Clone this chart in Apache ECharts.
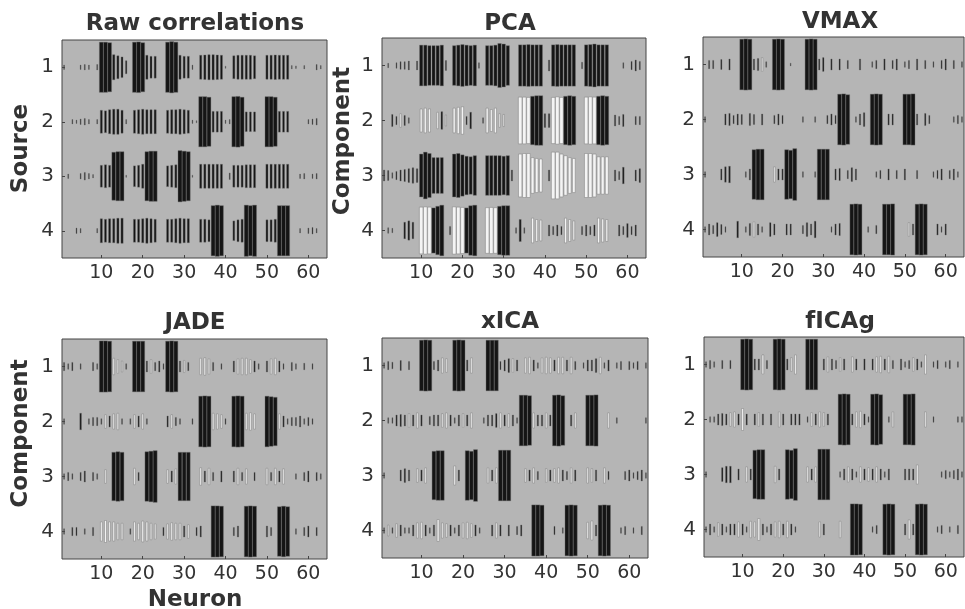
<!DOCTYPE html>
<html><head><meta charset="utf-8">
<script src="https://cdn.jsdelivr.net/npm/echarts@6/dist/echarts.min.js"></script>
<style>html,body{margin:0;padding:0;background:#fff}#c{width:965px;height:609px}</style>
</head><body><div id="c"></div>
<script>
// ---------- data (percent; positive = black bar, negative = white bar) ----------
const rowLabels = ['1', '2', '3', '4'];
const xTicks = [10, 20, 30, 40, 50, 60];
const panelTitles = ['Raw correlations', 'PCA', 'VMAX', 'JADE', 'xICA', 'fICAg'];

const raw1 = [8,0,0,0,8,10,8,0, 10,92,92,90,46,42,38,24, 0,92,93,90,44,40,40,0, 0,92,94,92,44,40,40,8, 0,44,45,46,46,45,44,4, 0,42,44,44,44,44,42,0, 0,44,44,45,44,44,44,6, 5,0,6,0,0,10,6,0];
const raw2 = [0,0,8,6,10,12,8,0, 8,42,40,44,46,46,42,8, 0,42,44,46,44,44,44,0, 0,42,44,44,46,44,42,6, 4,92,92,90,38,38,38,6, 8,92,93,90,36,36,36,0, 0,92,92,90,38,38,38,0, 0,0,0,8,10,12,0,0];
const raw3 = [0,8,0,0,10,14,10,6, 0,40,42,40,88,90,90,4, 0,38,40,44,90,92,92,0, 0,38,40,42,94,92,90,4, 0,44,44,44,44,44,44,0, 12,40,40,40,42,42,42,0, 0,44,44,44,44,44,44,0, 0,8,10,0,8,10,0,0];
const raw4 = [0,0,0,10,8,0,0,0, 8,44,42,44,44,46,46,0, 0,42,42,44,46,44,42,0, 0,42,42,44,46,44,44,0, 0,42,42,40,92,94,92,0, 0,36,40,42,94,92,94,0, 0,40,40,42,92,92,92,0, 0,8,0,10,12,8,0,0];

const pca1 = [0,8,0,10,14,14,16,0, 16,74,74,72,72,72,74,18, 0,72,74,76,74,72,74,10, 0,72,72,74,80,78,72,0, 0,75,75,76,75,75,75,0, 20,75,76,75,75,75,75,0, 12,75,76,78,75,75,75,0, 0,0,10,0,15,20,15,0];
const pca2 = [0,0,22,15,-25,18,10,0, 0,-42,-45,-42,0,-30,32,-20, 0,-45,-48,-50,15,30,0,0, 10,-45,-40,-45,-25,-22,0,0, 0,-85,-85,-84,88,90,90,25, 25,-84,-86,-84,88,90,88,0, 0,-85,-86,-85,88,90,88,0, 20,15,22,0,0,15,15,0];
const pca3 = [20,18,10,15,20,22,25,28, 25,78,85,80,65,65,65,0, 0,78,80,75,70,68,72,0, 0,72,72,72,72,70,72,20, 0,-78,-80,-80,-65,-62,-60,0, 20,-85,-85,-78,-72,-65,-62,0, 0,-80,-80,-78,-68,-68,-68,0, 20,15,30,0,0,20,25,0];
const pca4 = [0,10,8,0,0,30,35,30, 0,-85,-86,-85,82,88,92,0, 15,-86,-85,-84,82,90,92,0, 0,-83,-84,-83,88,90,90,0, 10,40,10,0,-45,-40,-38,0, 20,15,20,15,-45,-40,-35,0, 15,20,15,20,-45,-42,-40,0, 0,20,15,25,15,20,0,0];

const vmax1 = [0,15,15,0,18,0,20,0, 0,92,93,92,20,22,-25,10, 0,92,93,92,0,5,0,0, 0,92,93,92,20,25,0,20, 0,20,0,15,0,0,20,0, 0,10,15,0,20,0,15,20, 0,10,15,0,20,0,15,0, 10,0,15,20,0,15,0,10];
const vmax2 = [10,0,0,0,0,20,22,15, 20,18,0,22,18,0,20,0, 0,15,20,15,0,0,0,0, 10,0,0,10,0,0,15,20, 15,92,93,90,0,10,20,25, 0,92,93,92,0,20,20,0, 0,92,92,93,20,0,22,15, 0,0,0,0,0,10,15,10];
const vmax3 = [10,0,0,0,20,28,30,0, 0,0,10,20,90,92,92,0, 0,-28,20,20,90,88,94,0, 10,0,0,10,92,92,92,0, 20,22,0,15,25,20,0,0, 0,0,10,15,0,20,0,15, 0,20,0,0,15,0,0,0, 10,15,20,0,15,20,10,0];
const vmax4 = [10,20,15,25,18,10,0,0, 30,0,10,22,-28,20,10,0, 25,20,0,0,20,20,0,0, 15,25,20,30,0,0,0,10, 20,22,0,0,92,93,92,0, 10,0,15,0,92,92,93,0, 0,0,-25,20,92,93,92,0, 0,20,10,20,0,0,0,0];

const jade1 = [15,10,15,0,10,0,0,15, 10,93,93,92,-30,-25,-20,10, 0,92,92,92,20,-25,15,20, 10,92,93,92,20,-22,15,0, 0,-30,-32,-28,15,0,10,0, 0,20,-28,-30,-30,-25,20,10, 0,20,-28,-30,20,10,0,15, 10,0,12,0,10,0,0,0];
const jade2 = [10,0,0,0,30,0,10,15, 15,10,-25,20,-28,-30,10,0, 10,-25,20,-28,10,0,0,0, 0,20,-25,15,10,0,0,10, 0,92,93,92,-30,-28,-25,10, 0,92,93,92,-30,-32,-28,0, 0,92,90,88,-28,20,10,15, 15,20,10,15,10,0,0,0];
const jade3 = [10,15,10,0,15,20,0,15, 10,0,-25,0,88,90,88,0, 0,-30,15,0,90,92,94,0, 0,-25,20,-28,88,88,88,0, 0,-32,20,-30,15,0,20,0, 0,20,-30,15,-28,0,15,0, 0,-30,15,-30,20,-28,0,0, 10,0,15,20,0,15,10,0];
const jade4 = [10,0,15,15,0,10,0,15, 0,-35,-40,-35,-35,-30,-30,0, 10,-35,-30,-38,-35,-30,-28,0, 15,-28,-32,-30,-30,20,-25,0, 15,20,0,0,93,93,92,0, 0,15,20,0,92,93,92,0, 0,20,15,0,90,92,90,0, 10,0,15,20,0,15,0,0];

const xica1 = [10,15,12,0,18,0,15,0, 0,92,93,92,15,20,-28,-25, 0,92,93,92,20,-28,0,0, 0,92,92,92,15,20,25,-25, 20,0,-28,-30,20,10,-28,-30, -28,20,-30,-30,20,-30,15,0, 10,20,20,25,-30,10,20,0, 10,15,0,15,10,15,0,10];
const xica2 = [0,10,10,20,22,20,-25,20, -28,20,0,15,20,20,-25,-28, 20,10,20,-25,20,-28,0,0, 10,20,20,25,-28,20,-25,20, 10,92,92,90,-28,20,20,-28, 20,92,93,90,0,20,-28,0, 0,92,92,93,0,0,-28,0, 10,0,0,0,0,0,0,10];
const xica3 = [10,0,0,0,20,25,20,0, -25,20,-28,0,88,90,90,0, 0,-35,20,0,90,88,94,0, 0,-28,20,-28,92,92,92,0, 0,0,-25,20,-28,15,0,-25, 20,-25,-28,20,15,-28,20,0, 0,-28,-25,20,0,-28,15,0, 0,0,15,20,10,15,20,10];
const xica4 = [10,-20,10,-25,20,10,10,20, -28,-30,20,10,20,-40,-28,-25, 20,10,20,-28,-30,-25,20,10, 0,0,20,-28,20,0,20,0, 15,20,0,0,93,93,92,0, 0,15,0,10,92,93,92,0, 0,-30,-35,20,92,93,92,0, 0,10,15,0,10,0,15,0];

const fica1 = [10,15,10,0,15,0,15,0, 0,92,93,92,20,20,-35,15, 0,92,93,92,20,-25,-35,0, 0,92,92,92,0,20,-28,20, 15,-25,20,0,-28,20,0,20, 0,20,-28,-30,20,-30,15,0, 20,10,15,-25,20,10,-35,0, 10,15,0,10,15,0,10,0];
const fica2 = [0,10,10,20,22,20,-25,-28, 20,-40,20,0,20,-25,20,0, 20,0,-28,20,0,20,20,20, 0,10,-25,20,-28,-25,20,0, 0,92,93,92,20,-28,-30,20, 10,92,93,90,0,10,-28,0, 0,92,92,93,0,0,-28,0, 10,0,0,0,0,0,10,10];
const fica3 = [10,0,0,0,25,30,30,0, 20,0,-28,20,88,90,90,0, 0,-30,20,0,90,88,94,0, 0,-28,20,-28,92,92,92,0, 0,10,20,-28,20,10,-28,20, -25,20,-28,20,10,20,0,0, 0,20,20,20,-35,0,0,0, 0,0,10,15,10,15,20,10];
const fica4 = [10,20,10,-25,20,10,20,20, -28,20,10,-30,-28,-40,20,10, 20,-28,-30,20,-30,20,10,0, 0,0,0,0,-28,20,0,0, 0,-30,0,0,93,93,92,0, 0,10,15,0,92,93,92,0, 0,20,-35,20,92,93,92,0, 0,10,15,0,10,0,15,0];

const panelRows = [
  [raw1, raw2, raw3, raw4],
  [pca1, pca2, pca3, pca4],
  [vmax1, vmax2, vmax3, vmax4],
  [jade1, jade2, jade3, jade4],
  [xica1, xica2, xica3, xica4],
  [fica1, fica2, fica3, fica4]
];

// ---------- layout ----------
const gridBoxes = [
  {left: 62, top: 40, width: 265, height: 218},
  {left: 382, top: 38, width: 264, height: 220},
  {left: 703, top: 37, width: 261, height: 220},
  {left: 62, top: 339, width: 265, height: 220},
  {left: 382, top: 338, width: 266, height: 220},
  {left: 704, top: 337, width: 260, height: 220}
];
const titlePos = [[195, 24.5], [510, 24], [840, 22.5], [195, 323], [510, 322], [840, 322]];
const FONT = '"DejaVu Sans", Verdana, sans-serif';
const TXT = '#333333';

function renderItem(params, api) {
  const n = api.value(0), r = api.value(1), v = api.value(2);
  const c = api.coord([n, r]);
  const unit = api.size([1, 1]);
  const a = Math.abs(v) / 100;
  const w = unit[0] * Math.min(0.96, 0.12 + 0.9 * a);
  const h = unit[1] * a;
  return {
    type: 'rect',
    shape: {x: c[0] - w / 2, y: c[1] - h / 2, width: w, height: h},
    style: v > 0
      ? {fill: '#151515', stroke: 'rgba(110,110,110,0.8)', lineWidth: 0.5}
      : {fill: '#f4f4f4', stroke: '#7a7a7a', lineWidth: 0.5}
  };
}

const grids = [], xAxes = [], yAxes = [], series = [], graphics = [];
gridBoxes.forEach((g, i) => {
  grids.push(Object.assign({show: true, backgroundColor: '#b5b5b5', borderColor: '#444', borderWidth: 1, containLabel: false}, g));
  xAxes.push({
    type: 'value', gridIndex: i, min: 0.5, max: 64.5,
    axisLine: {show: false}, splitLine: {show: false},
    axisTick: {show: true, inside: true, length: 3, customValues: xTicks, lineStyle: {color: '#444'}},
    axisLabel: {customValues: xTicks, fontSize: 19, color: TXT, margin: 6, fontFamily: FONT}
  });
  yAxes.push({
    type: 'category', gridIndex: i, data: rowLabels, inverse: true,
    axisLine: {show: false}, splitLine: {show: false},
    axisTick: {show: true, inside: true, length: 3, alignWithLabel: true, lineStyle: {color: '#444'}},
    axisLabel: {fontSize: 20, color: TXT, margin: 8, fontFamily: FONT}
  });
  const data = [];
  panelRows[i].forEach((row, r) => {
    row.forEach((v, k) => { if (v !== 0) data.push([k + 1, r, v]); });
  });
  series.push({type: 'custom', xAxisIndex: i, yAxisIndex: i, renderItem: renderItem, data: data, clip: true, silent: true, animation: false});
  graphics.push({type: 'text', x: titlePos[i][0], y: titlePos[i][1],
    style: {text: panelTitles[i], font: 'bold 23px ' + FONT, fill: TXT, align: 'center', verticalAlign: 'middle'}});
});

graphics.push({type: 'text', x: 21, y: 148.5, rotation: Math.PI / 2,
  style: {text: 'Source', font: 'bold 23px ' + FONT, fill: TXT, align: 'center', verticalAlign: 'middle'}});
graphics.push({type: 'text', x: 343, y: 141, rotation: Math.PI / 2,
  style: {text: 'Component', font: 'bold 23px ' + FONT, fill: TXT, align: 'center', verticalAlign: 'middle'}});
graphics.push({type: 'text', x: 21.5, y: 433.5, rotation: Math.PI / 2,
  style: {text: 'Component', font: 'bold 23px ' + FONT, fill: TXT, align: 'center', verticalAlign: 'middle'}});
graphics.push({type: 'text', x: 195, y: 600,
  style: {text: 'Neuron', font: 'bold 23px ' + FONT, fill: TXT, align: 'center', verticalAlign: 'middle'}});

const chart = echarts.init(document.getElementById('c'), null, {renderer: 'canvas'});
chart.setOption({
  animation: false,
  backgroundColor: '#ffffff',
  grid: grids, xAxis: xAxes, yAxis: yAxes, series: series, graphic: graphics
});
</script></body></html>
